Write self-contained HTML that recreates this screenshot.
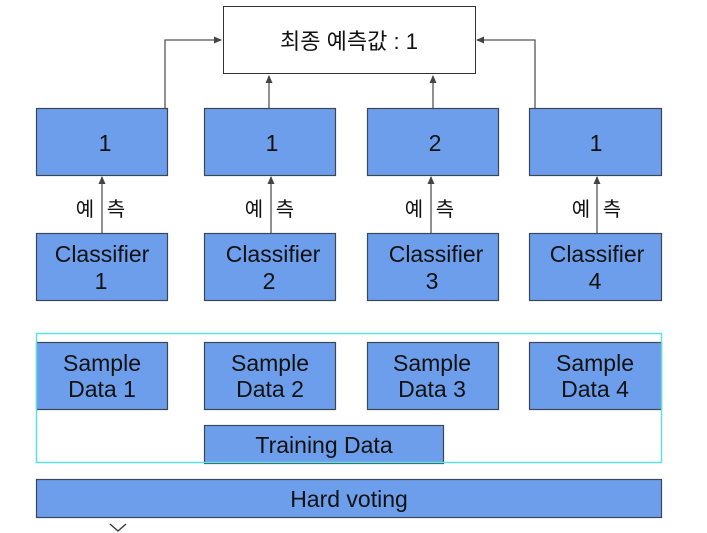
<!DOCTYPE html>
<html><head><meta charset="utf-8"><style>
html,body{margin:0;padding:0;background:#fff;width:707px;height:533px;overflow:hidden}
svg text{font-family:"Liberation Sans","Noto Sans CJK KR",sans-serif;fill:#111}
</style></head><body>
<svg width="707" height="533" viewBox="0 0 707 533" xmlns="http://www.w3.org/2000/svg">
<defs><marker id="a" markerWidth="8" markerHeight="8" refX="7" refY="4" orient="auto" markerUnits="userSpaceOnUse"><path d="M0,0.5 L8,4 L0,7.5z" fill="#444"/></marker></defs>
<g stroke="#555" stroke-width="1.3" fill="none">
<path d="M165,108 V40 H221" marker-end="url(#a)"/>
<path d="M535,108 V40 H477" marker-end="url(#a)"/>
<path d="M269,108 V76" marker-end="url(#a)"/>
<path d="M433,108 V76" marker-end="url(#a)"/>
<path d="M102,233 V177" marker-end="url(#a)"/>
<path d="M271,233 V177" marker-end="url(#a)"/>
<path d="M431,233 V177" marker-end="url(#a)"/>
<path d="M597,233 V177" marker-end="url(#a)"/>
</g>
<rect x="223.5" y="6.5" width="252" height="67" fill="#fff" stroke="#333" stroke-width="1"/>
<text x="349" y="49" font-size="22" text-anchor="middle">최종 예측값 : 1</text>
<g fill="#6d9eeb" stroke="#3c4654" stroke-width="1.2">
<rect x="36.5" y="108.5" width="131" height="67"/>
<rect x="204.5" y="108.5" width="131" height="67"/>
<rect x="367.5" y="108.5" width="131" height="67"/>
<rect x="529.5" y="108.5" width="132" height="67"/>
<rect x="36.5" y="233.5" width="131" height="67"/>
<rect x="204.5" y="233.5" width="131" height="67"/>
<rect x="367.5" y="233.5" width="131" height="67"/>
<rect x="529.5" y="233.5" width="132" height="67"/>
<rect x="36.5" y="342.5" width="131" height="67"/>
<rect x="204.5" y="342.5" width="131" height="67"/>
<rect x="367.5" y="342.5" width="131" height="67"/>
<rect x="529.5" y="342.5" width="132" height="67"/>
<rect x="204.5" y="425.5" width="239" height="38"/>
<rect x="36.5" y="479.5" width="625" height="38"/>
</g>
<rect x="36.5" y="333.5" width="625" height="129" fill="none" stroke="#5ee0e0" stroke-width="1.5"/>
<g font-size="23" text-anchor="middle">
<text x="105" y="151">1</text><text x="272" y="151">1</text><text x="435" y="151">2</text><text x="596" y="151">1</text>
<text x="102" y="262">Classifier</text><text x="101" y="289">1</text>
<text x="273" y="262">Classifier</text><text x="269" y="289">2</text>
<text x="436" y="262">Classifier</text><text x="432" y="289">3</text>
<text x="597" y="262">Classifier</text><text x="595" y="289">4</text>
<text x="102" y="371">Sample</text><text x="102" y="397">Data 1</text>
<text x="270" y="371">Sample</text><text x="270" y="397">Data 2</text>
<text x="432" y="371">Sample</text><text x="432" y="397">Data 3</text>
<text x="595" y="371">Sample</text><text x="595" y="397">Data 4</text>
<text x="324" y="453">Training Data</text>
<text x="349" y="507">Hard voting</text>
</g>
<g font-size="20" text-anchor="middle">
<text x="85" y="216">예</text><text x="116" y="216">측</text>
<text x="254" y="216">예</text><text x="285" y="216">측</text>
<text x="414" y="216">예</text><text x="445" y="216">측</text>
<text x="581" y="216">예</text><text x="612" y="216">측</text>
</g>
<path d="M110,524 L118,531 L126,524" stroke="#333" stroke-width="1.3" fill="none"/>
</svg>
</body></html>
